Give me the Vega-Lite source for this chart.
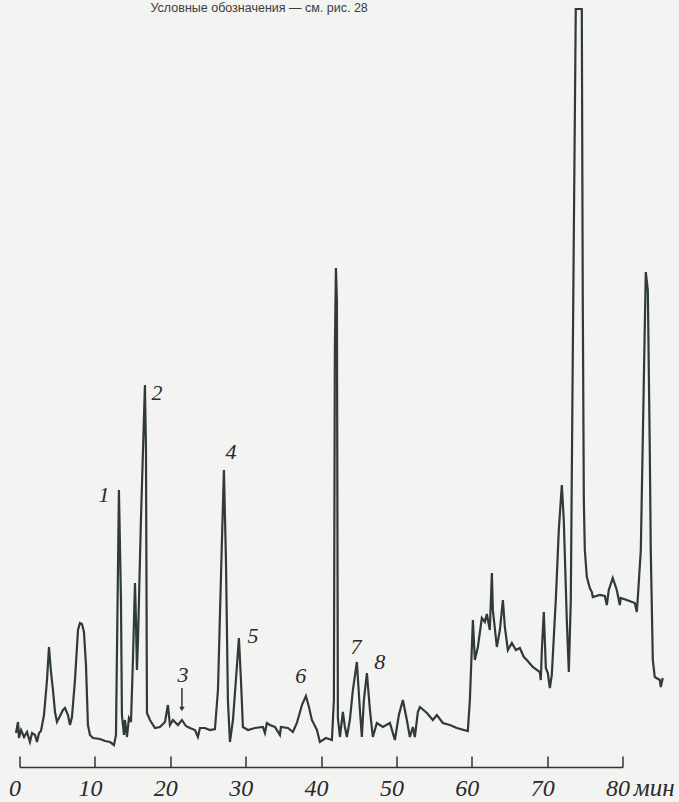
{
  "$schema": "https://vega.github.io/schema/vega-lite/v6.json",
  "autosize": {"type": "none"},
  "width": 603,
  "height": 767,
  "padding": {"left": 19.5, "top": 0, "right": 56.5, "bottom": 35},
  "background": "#f3f3f1",
  "config": {"view": {"stroke": null}},
  "title": {"text": "Условные обозначения — см. рис. 28", "anchor": "start", "orient": "top", "offset": 0, "dx": 142, "dy": 24, "baseline": "alphabetic", "fontSize": 12.5, "fontWeight": "normal", "color": "#3c3c3c", "font": "Liberation Sans"},
  "datasets": {
    "trace": [
      {"t": -0.46, "v": 34}, {"t": -0.2, "v": 45}, {"t": -0.07, "v": 29}, {"t": 0.2, "v": 37}, {"t": 0.6, "v": 30},
      {"t": 1.0, "v": 35}, {"t": 1.39, "v": 25}, {"t": 1.66, "v": 34}, {"t": 2.06, "v": 32}, {"t": 2.32, "v": 25},
      {"t": 2.59, "v": 34}, {"t": 2.85, "v": 36}, {"t": 3.25, "v": 52}, {"t": 3.65, "v": 87}, {"t": 3.91, "v": 120},
      {"t": 4.05, "v": 107}, {"t": 4.18, "v": 95}, {"t": 4.44, "v": 77}, {"t": 4.71, "v": 55}, {"t": 4.97, "v": 45},
      {"t": 5.37, "v": 51}, {"t": 5.77, "v": 57}, {"t": 6.03, "v": 59}, {"t": 6.43, "v": 52}, {"t": 6.7, "v": 42},
      {"t": 6.96, "v": 50}, {"t": 7.36, "v": 87}, {"t": 7.76, "v": 137}, {"t": 8.02, "v": 144}, {"t": 8.29, "v": 143},
      {"t": 8.55, "v": 135}, {"t": 8.82, "v": 102}, {"t": 9.08, "v": 42}, {"t": 9.35, "v": 32}, {"t": 9.75, "v": 29},
      {"t": 10.68, "v": 28}, {"t": 11.34, "v": 26}, {"t": 12.0, "v": 25}, {"t": 12.53, "v": 22}, {"t": 12.8, "v": 32},
      {"t": 13.19, "v": 277}, {"t": 13.46, "v": 167}, {"t": 13.59, "v": 52}, {"t": 13.86, "v": 32}, {"t": 13.99, "v": 47},
      {"t": 14.26, "v": 30}, {"t": 14.52, "v": 49}, {"t": 14.79, "v": 45}, {"t": 15.05, "v": 107}, {"t": 15.32, "v": 184},
      {"t": 15.45, "v": 147}, {"t": 15.58, "v": 97}, {"t": 15.72, "v": 127}, {"t": 16.11, "v": 247}, {"t": 16.64, "v": 382},
      {"t": 16.78, "v": 317}, {"t": 16.91, "v": 54}, {"t": 17.31, "v": 47}, {"t": 17.97, "v": 39}, {"t": 18.63, "v": 40},
      {"t": 19.3, "v": 45}, {"t": 19.69, "v": 62}, {"t": 19.96, "v": 42}, {"t": 20.36, "v": 47}, {"t": 21.02, "v": 42},
      {"t": 21.55, "v": 47}, {"t": 22.08, "v": 41}, {"t": 22.61, "v": 39}, {"t": 23.28, "v": 37}, {"t": 23.67, "v": 30},
      {"t": 23.94, "v": 39}, {"t": 24.6, "v": 39}, {"t": 25.27, "v": 37}, {"t": 25.93, "v": 38}, {"t": 26.33, "v": 77},
      {"t": 26.86, "v": 227}, {"t": 27.12, "v": 297}, {"t": 27.39, "v": 207}, {"t": 27.65, "v": 67}, {"t": 27.92, "v": 25},
      {"t": 28.32, "v": 47}, {"t": 28.71, "v": 87}, {"t": 29.11, "v": 129}, {"t": 29.38, "v": 87}, {"t": 29.64, "v": 40},
      {"t": 30.31, "v": 37}, {"t": 31.23, "v": 39}, {"t": 32.29, "v": 40}, {"t": 32.56, "v": 34}, {"t": 32.82, "v": 44},
      {"t": 33.22, "v": 42}, {"t": 33.89, "v": 40}, {"t": 34.55, "v": 32}, {"t": 34.68, "v": 40}, {"t": 35.61, "v": 39},
      {"t": 36.27, "v": 35}, {"t": 36.8, "v": 44}, {"t": 37.47, "v": 62}, {"t": 38.0, "v": 71}, {"t": 38.4, "v": 60},
      {"t": 38.79, "v": 47}, {"t": 39.46, "v": 37}, {"t": 39.85, "v": 25}, {"t": 40.65, "v": 29}, {"t": 41.45, "v": 27},
      {"t": 41.71, "v": 67}, {"t": 41.84, "v": 417}, {"t": 41.98, "v": 499}, {"t": 42.11, "v": 467}, {"t": 42.24, "v": 49},
      {"t": 42.51, "v": 30}, {"t": 42.9, "v": 55}, {"t": 43.17, "v": 40}, {"t": 43.43, "v": 30}, {"t": 43.83, "v": 47},
      {"t": 44.23, "v": 77}, {"t": 44.76, "v": 105}, {"t": 45.16, "v": 57}, {"t": 45.42, "v": 30}, {"t": 45.69, "v": 67},
      {"t": 46.09, "v": 94}, {"t": 46.49, "v": 57}, {"t": 46.88, "v": 30}, {"t": 47.41, "v": 44}, {"t": 48.21, "v": 40},
      {"t": 49.14, "v": 44}, {"t": 49.8, "v": 27}, {"t": 50.33, "v": 52}, {"t": 50.86, "v": 67}, {"t": 51.39, "v": 47},
      {"t": 51.79, "v": 30}, {"t": 52.19, "v": 40}, {"t": 52.45, "v": 30}, {"t": 52.85, "v": 55}, {"t": 53.12, "v": 60},
      {"t": 54.05, "v": 54}, {"t": 54.84, "v": 47}, {"t": 55.37, "v": 52}, {"t": 56.17, "v": 44}, {"t": 57.1, "v": 42},
      {"t": 58.02, "v": 39}, {"t": 59.48, "v": 36}, {"t": 59.75, "v": 67}, {"t": 60.15, "v": 147}, {"t": 60.41, "v": 107},
      {"t": 60.81, "v": 120}, {"t": 61.34, "v": 149}, {"t": 61.74, "v": 145}, {"t": 62.0, "v": 153}, {"t": 62.4, "v": 137},
      {"t": 62.67, "v": 194}, {"t": 62.8, "v": 157}, {"t": 63.33, "v": 120}, {"t": 63.73, "v": 137}, {"t": 64.13, "v": 167},
      {"t": 64.39, "v": 140}, {"t": 64.79, "v": 117}, {"t": 65.32, "v": 124}, {"t": 65.85, "v": 117}, {"t": 66.38, "v": 119},
      {"t": 66.91, "v": 110}, {"t": 67.31, "v": 107}, {"t": 68.1, "v": 100}, {"t": 69.03, "v": 95}, {"t": 69.16, "v": 87},
      {"t": 69.3, "v": 117}, {"t": 69.56, "v": 155}, {"t": 69.83, "v": 99}, {"t": 70.09, "v": 94}, {"t": 70.36, "v": 79},
      {"t": 70.62, "v": 92}, {"t": 71.15, "v": 167}, {"t": 71.55, "v": 237}, {"t": 71.95, "v": 282}, {"t": 72.21, "v": 247},
      {"t": 72.61, "v": 147}, {"t": 72.88, "v": 95}, {"t": 73.14, "v": 167}, {"t": 73.41, "v": 417}, {"t": 73.8, "v": 758},
      {"t": 74.6, "v": 758}, {"t": 74.73, "v": 467}, {"t": 74.87, "v": 267}, {"t": 75.0, "v": 217}, {"t": 75.27, "v": 190},
      {"t": 75.66, "v": 179}, {"t": 75.93, "v": 175}, {"t": 76.06, "v": 170}, {"t": 76.99, "v": 172}, {"t": 77.65, "v": 171},
      {"t": 77.92, "v": 162}, {"t": 78.18, "v": 177}, {"t": 78.71, "v": 189}, {"t": 79.24, "v": 177}, {"t": 79.64, "v": 162},
      {"t": 79.77, "v": 169}, {"t": 80.57, "v": 167}, {"t": 81.63, "v": 164}, {"t": 81.9, "v": 155}, {"t": 82.03, "v": 169},
      {"t": 82.43, "v": 217}, {"t": 82.83, "v": 387}, {"t": 83.09, "v": 495}, {"t": 83.36, "v": 477}, {"t": 83.62, "v": 317},
      {"t": 83.75, "v": 217}, {"t": 84.02, "v": 107}, {"t": 84.28, "v": 90}, {"t": 84.95, "v": 87}, {"t": 85.08, "v": 80},
      {"t": 85.34, "v": 89}
    ],
    "labels": [
      {"t": 11.2, "v": 272, "label": "1"},
      {"t": 18.24, "v": 374, "label": "2"},
      {"t": 21.68, "v": 92, "label": "3"},
      {"t": 28.05, "v": 315, "label": "4"},
      {"t": 30.97, "v": 131, "label": "5"},
      {"t": 37.33, "v": 91, "label": "6"},
      {"t": 44.63, "v": 120, "label": "7"},
      {"t": 47.81, "v": 105, "label": "8"}
    ],
    "arrow": [{"t": 21.55, "v": 79, "v2": 58}],
    "unit": [{"t": 81.5, "v": -29, "label": "мин"}]
  },
  "layer": [
    {
      "data": {"name": "trace"},
      "mark": {"type": "line", "color": "#2f3b34", "strokeWidth": 2.2, "interpolate": "linear"},
      "encoding": {
        "x": {"field": "t", "type": "quantitative", "scale": {"domain": [0, 80], "nice": false, "zero": false},
          "axis": {"values": [0, 10, 20, 30, 40, 50, 60, 70, 80], "title": null, "grid": false,
            "domainColor": "#333", "domainWidth": 1.5, "tickColor": "#333", "tickWidth": 1.5, "tickSize": -11,
            "labelPadding": 20, "labelOffset": -5, "labelFont": "Liberation Sans Narrow", "labelFontStyle": "italic", "labelFontSize": 24,
            "labelColor": "#2a2a2a", "labelFlush": false, "labelOverlap": false}},
        "y": {"field": "v", "type": "quantitative", "scale": {"domain": [0, 767], "nice": false, "zero": false}, "axis": null}
      }
    },
    {
      "data": {"name": "labels"},
      "mark": {"type": "text", "font": "Liberation Sans Narrow", "fontStyle": "italic", "fontSize": 22, "color": "#2a2a2a", "baseline": "middle", "align": "center"},
      "encoding": {
        "x": {"field": "t", "type": "quantitative"},
        "y": {"field": "v", "type": "quantitative"},
        "text": {"field": "label"}
      }
    },
    {
      "data": {"name": "arrow"},
      "mark": {"type": "rule", "color": "#2f3b34", "strokeWidth": 1.5},
      "encoding": {
        "x": {"field": "t", "type": "quantitative"},
        "y": {"field": "v", "type": "quantitative"},
        "y2": {"field": "v2"}
      }
    },
    {
      "data": {"name": "arrow"},
      "mark": {"type": "point", "shape": "triangle-down", "filled": true, "color": "#2f3b34", "size": 30, "opacity": 1},
      "encoding": {
        "x": {"field": "t", "type": "quantitative"},
        "y": {"field": "v2", "type": "quantitative"}
      }
    },
    {
      "data": {"name": "unit"},
      "mark": {"type": "text", "font": "Liberation Sans Narrow", "fontStyle": "italic", "fontSize": 25, "color": "#2a2a2a", "baseline": "alphabetic", "align": "left"},
      "encoding": {
        "x": {"field": "t", "type": "quantitative"},
        "y": {"field": "v", "type": "quantitative"},
        "text": {"field": "label"}
      }
    }
  ]
}
